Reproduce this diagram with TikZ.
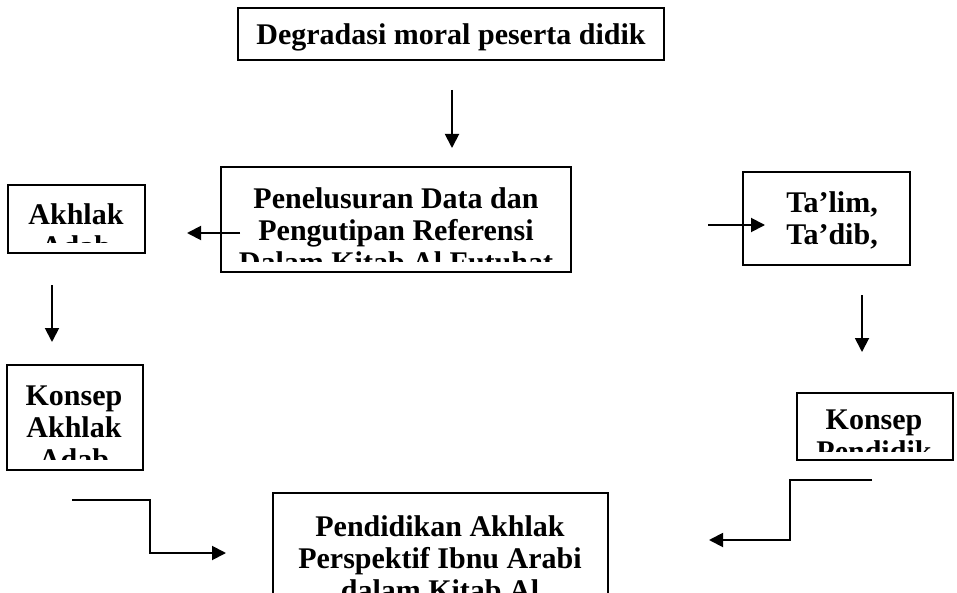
\documentclass[tikz,border=0pt]{standalone}
\usepackage{fontspec}
\setmainfont{Liberation Serif}
\usetikzlibrary{arrows.meta}

\newcommand{\boxlines}[2]{\parbox[t]{#1}{\centering #2}}

\begin{document}
\begin{tikzpicture}[x=1pt, y=-1pt, line width=1.9pt,
  >={Triangle[length=14pt, width=14pt]},
  box/.style = {draw, inner sep=0pt},
  txt/.style = {inner sep=0pt, anchor=base, font=\fontsize{30}{32}\selectfont\bfseries}]
\useasboundingbox (0,0) rectangle (957,593);
\clip (0,0) rectangle (957,593);

% boxes
\node[box, minimum width=426pt, minimum height=52pt] (degradasi) at (451,34) {};
\node[box, minimum width=350pt, minimum height=105pt] (telusur) at (396,219.5) {};
\node[box, minimum width=137pt, minimum height=68pt] (akhlak) at (76.5,219) {};
\node[box, minimum width=167pt, minimum height=93pt] (talim) at (826.5,218.5) {};
\node[box, minimum width=136pt, minimum height=105pt] (konsepAkhlak) at (75,417.5) {};
\node[box, minimum width=156pt, minimum height=67pt] (konsepDidik) at (875,426.5) {};
\node[box, minimum width=335pt, minimum height=130pt] (pendidikan) at (440.5,558) {};

% texts
\node[txt] (degradasiTxt) at (451,45) {Degradasi moral peserta didik};
\begin{scope}
\clip (telusur.north west) rectangle (571,262);
\node[txt] (telusurTxt) at (396,209) {\boxlines{340pt}{Penelusuran Data dan\\Pengutipan Referensi\\Dalam Kitab Al Futuhat}};
\end{scope}
\begin{scope}
\clip (akhlak.north west) rectangle (145,243);
\node[txt] (akhlakTxt) at (76,225) {\boxlines{130pt}{Akhlak\\Adab}};
\end{scope}
\node[txt] (talimTxt) at (832,213) {\boxlines{150pt}{Ta’lim,\\Ta’dib,}};
\begin{scope}
\clip (konsepAkhlak.north west) rectangle (143,459);
\node[txt] (konsepAkhlakTxt) at (74,405) {\boxlines{130pt}{Konsep\\Akhlak\\Adab}};
\end{scope}
\begin{scope}
\clip (konsepDidik.north west) rectangle (953,451);
\node[txt] (konsepDidikTxt) at (874,429) {\boxlines{150pt}{Konsep\\Pendidik}};
\end{scope}
\node[txt] (pendidikanTxt) at (440,536) {\boxlines{330pt}{Pendidikan Akhlak\\Perspektif Ibnu Arabi\\dalam Kitab Al}};

% connector ends
\coordinate (d1) at (452,90);
\coordinate (d2) at (452,148);
\coordinate (t1) at (240,233);
\coordinate (t2) at (187,233);
\coordinate (m1) at (708,225);
\coordinate (m2) at (765,225);
\coordinate (l1) at (52,285);
\coordinate (l2) at (52,342);
\coordinate (r1) at (862,295);
\coordinate (r2) at (862,352);
\coordinate (k1) at (72,500);
\coordinate (k2) at (226,553);
\coordinate (p1) at (872,480);
\coordinate (p2) at (709,540);

% arrows
\draw[->] (d1) -- (d2);
\draw[->] (t1) -- (t2);
\draw[->] (m1) -- (m2);
\draw[->] (l1) -- (l2);
\draw[->] (r1) -- (r2);
\draw[->] (k1) -- (150,500) |- (k2);
\draw[->] (p1) -- (790,480) |- (p2);
\end{tikzpicture}
\end{document}
